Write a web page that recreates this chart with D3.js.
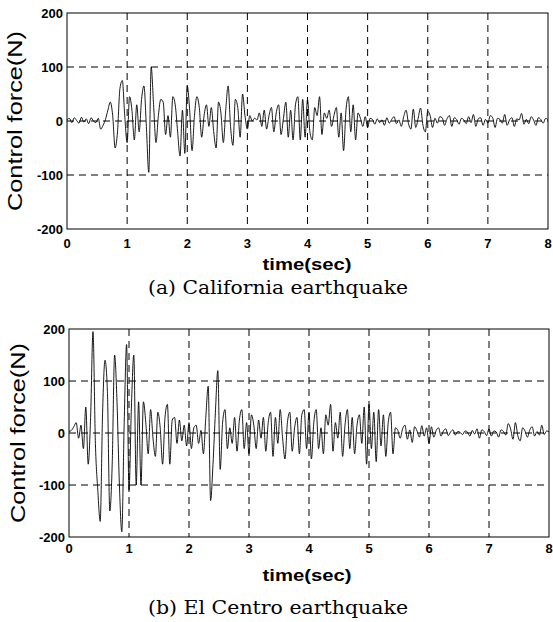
<!DOCTYPE html>
<html>
<head>
<meta charset="utf-8">
<script src="https://cdn.jsdelivr.net/npm/d3@7"></script>
<style>
  html, body { margin: 0; padding: 0; background: #fff; }
  svg { display: block; }
  .grid line { stroke: #000; stroke-width: 1; stroke-dasharray: 7,5; }
  .tick-lbl { font-family: "Liberation Sans", Arial, sans-serif; font-weight: bold; font-size: 13px; fill: #000; }
</style>
</head>
<body>
<div id="chart"></div>
<script>
// ===== Data =====
const SAMPLE_DT = 0.04; // sec between samples
const xTicks = [0, 1, 2, 3, 4, 5, 6, 7, 8];
const yTicks = [-200, -100, 0, 100, 200];

// California earthquake, control force (N)
const californiaForce = [
  2, 5, -3, 6, 1, -4, 7, -2, 4, -5, 6, 0, -3, 5, -15, -8, 3, 20, 35, 10, -50, -20, 60, 75, 10,
  -40, 45, 20, -35, 30, -20, 40, 65, -10, -95, 100, 30, -40, 10, 40, 35, -25, 10, -30, 45, 30, -20, -65, 20, -60,
  65, 20, -55, 10, 45, 25, -30, 10, 30, -10, 25, -20, -50, 35, 15, -40, 20, 65, -10, -45, 40, 25, -30, 50, 10,
  -15, 10, 0, 5, 2, 15, -10, 20, -15, 10, 25, -20, 15, 30, -25, 5, 35, -30, 20, -35, 30, 45, -35, 40, -30,
  40, -20, -35, 25, 10, 45, -25, 15, 5, 20, -10, 10, 25, -30, 15, -55, 20, 45, -20, 30, -35, 15, 5, -10, 8,
  -12, 5, 3, -6, 4, -3, 2, -8, 6, -4, 3, 8, -5, 2, -10, 8, 20, -5, -15, 22, -12, 5, 24, -8, -20,
  18, 10, -12, 5, -4, 8, 6, -8, 4, 10, -10, 6, 3, -6, 5, 2, -5, 8, -3, 12, -10, 4, 6, -8, 3,
  -4, 10, 6, -12, 5, 3, -4, 12, -8, 2, 6, -10, 4, 2, 14, -6, 3, -5, 8, 2, -8, 6, 3, -4, 5,
  2
];

// El Centro earthquake, control force (N)
const elCentroForce = [
  3, 5, 12, 20, -10, 15, -30, 50, -60, 30, 195, -20, -110, -170, 40, 140, 80, -150, -60, 150, 60, -100, -190, 20, 170,
  -110, 50, 150, -100, 60, -100, 60, 20, -40, 45, -10, -45, 40, 10, -60, 30, 55, -60, 25, 30, -20, 25, -15, 15, -25,
  20, -30, 10, 15, -20, 5, -40, 30, 90, -130, -60, 40, 120, -70, 20, 45, -30, 10, -20, 30, -35, 25, 45, -30, 20,
  -40, 35, 15, -30, 25, -10, 30, -35, 20, 40, -45, 30, -20, 45, -10, -50, 20, 40, -35, 10, 30, -40, 35, 45, -30,
  40, -50, 20, 45, -30, 10, -40, 35, 15, 55, -35, 20, -10, 40, -45, 15, 45, -30, 30, -40, 15, 35, -20, 50, -60,
  55, -30, 40, -55, 45, -25, 35, -45, 20, 40, -40, 10, 5, -10, 8, 15, -12, 6, -18, 12, 4, -8, 14, -6, 10,
  -20, 12, -8, 5, 10, -6, 4, 8, -5, 2, 6, -4, 3, 1, -3, 4, 2, -6, 5, -2, 8, -10, 6, 3, -5,
  8, -6, 4, 2, -8, 6, 3, -4, 18, 8, -12, 20, -5, -15, 10, 4, -8, 6, 12, -6, 3, -4, 15, -3, 4,
  2
];

const panels = [
  { series: californiaForce, caption: "(a) California earthquake",
    left: 67, right: 548, top: 13, bottom: 229,
    tickBase: 248, xlabBase: 270, capBase: 294, ylabX: 15 },
  { series: elCentroForce, caption: "(b) El Centro earthquake",
    left: 69, right: 549, top: 329, bottom: 537,
    tickBase: 553, xlabBase: 581, capBase: 614, ylabX: 18 }
];

// ===== SVG =====
const W = 553, H = 622;
const svg = d3.select("#chart").append("svg")
  .attr("width", W).attr("height", H)
  .attr("viewBox", `0 0 ${W} ${H}`);

function drawPanel(p) {
  const x = d3.scaleLinear().domain([0, 8]).range([p.left, p.right]);
  const y = d3.scaleLinear().domain([-200, 200]).range([p.bottom, p.top]);
  const g = svg.append("g");

  // grid (dashed, inner lines only)
  const grid = g.append("g").attr("class", "grid");
  grid.selectAll(".gx").data(xTicks.slice(1, -1)).enter().append("line")
    .attr("x1", d => x(d)).attr("x2", d => x(d))
    .attr("y1", p.top).attr("y2", p.bottom);
  grid.selectAll(".gy").data(yTicks.slice(1, -1)).enter().append("line")
    .attr("x1", p.left).attr("x2", p.right)
    .attr("y1", d => y(d)).attr("y2", d => y(d));

  // signal
  const line = d3.line()
    .x((d, i) => x(i * SAMPLE_DT))
    .y(d => y(d))
    .curve(d3.curveMonotoneX);
  g.append("path")
    .datum(p.series)
    .attr("d", line)
    .attr("fill", "none")
    .attr("stroke", "#000")
    .attr("stroke-width", 0.9)
    .attr("stroke-linejoin", "round");

  // frame
  g.append("rect")
    .attr("x", p.left).attr("y", p.top)
    .attr("width", p.right - p.left).attr("height", p.bottom - p.top)
    .attr("fill", "none").attr("stroke", "#000").attr("stroke-width", 1);

  // tick labels
  g.selectAll(".xl").data(xTicks).enter().append("text")
    .attr("class", "tick-lbl")
    .attr("x", d => x(d)).attr("y", p.tickBase)
    .attr("text-anchor", "middle")
    .text(d => d);
  g.selectAll(".yl").data(yTicks).enter().append("text")
    .attr("class", "tick-lbl")
    .attr("x", p.left - 4).attr("y", d => y(d))
    .attr("dy", "0.36em")
    .attr("text-anchor", "end")
    .text(d => d);

  // axis titles
  g.append("text")
    .attr("x", 307).attr("y", p.xlabBase)
    .attr("text-anchor", "middle")
    .style("font-family", "'Liberation Sans', Arial, sans-serif")
    .style("font-weight", "bold")
    .style("font-size", "17px")
    .attr("textLength", 89).attr("lengthAdjust", "spacingAndGlyphs")
    .text("time(sec)");

  const cy = (p.top + p.bottom) / 2;
  g.append("text")
    .attr("transform", `translate(${p.ylabX + 7},${cy}) rotate(-90)`)
    .attr("text-anchor", "middle")
    .style("font-family", "'Liberation Sans', Arial, sans-serif")
    .style("font-size", "20px")
    .attr("textLength", 180).attr("lengthAdjust", "spacingAndGlyphs")
    .text("Control force(N)");

  // caption
  g.append("text")
    .attr("x", 278).attr("y", p.capBase)
    .attr("text-anchor", "middle")
    .style("font-family", "'DejaVu Serif', 'Liberation Serif', serif")
    .style("font-size", "18px")
    .attr("textLength", 260).attr("lengthAdjust", "spacingAndGlyphs")
    .text(p.caption);
}

panels.forEach(drawPanel);
</script>
</body>
</html>
